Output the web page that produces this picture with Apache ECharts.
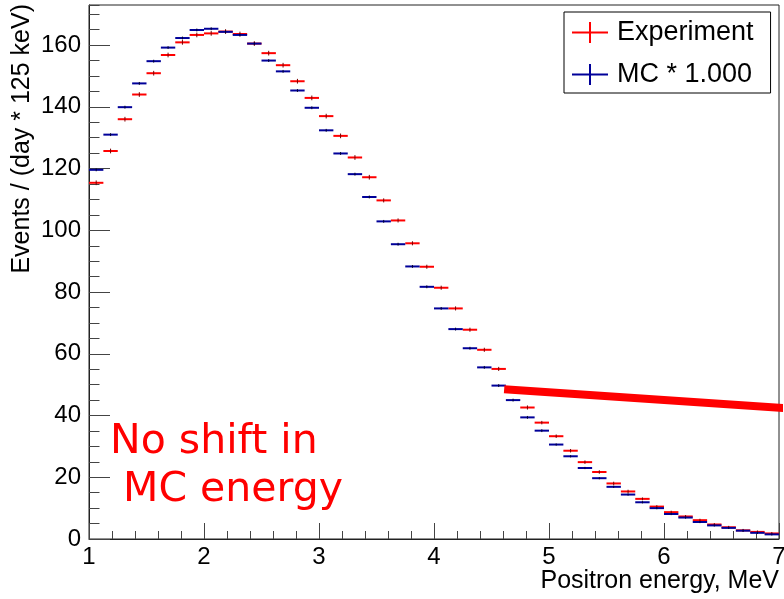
<!DOCTYPE html>
<html>
<head>
<meta charset="utf-8">
<script src="https://cdn.jsdelivr.net/npm/echarts@6/dist/echarts.min.js"></script>
<style>
  html, body { margin: 0; padding: 0; background: #fff; }
  #chart { width: 784px; height: 599px; }
</style>
</head>
<body>
<div id="chart"></div>
<script>
// Positron energy bin centres (MeV), 125 keV wide bins from 1 to 7 MeV
const energyBins = [
  1.0625, 1.1875, 1.3125, 1.4375, 1.5625, 1.6875, 1.8125, 1.9375,
  2.0625, 2.1875, 2.3125, 2.4375, 2.5625, 2.6875, 2.8125, 2.9375,
  3.0625, 3.1875, 3.3125, 3.4375, 3.5625, 3.6875, 3.8125, 3.9375,
  4.0625, 4.1875, 4.3125, 4.4375, 4.5625, 4.6875, 4.8125, 4.9375,
  5.0625, 5.1875, 5.3125, 5.4375, 5.5625, 5.6875, 5.8125, 5.9375,
  6.0625, 6.1875, 6.3125, 6.4375, 6.5625, 6.6875, 6.8125, 6.9375
];
const binWidth = 0.125;

// Measured spectrum, events / (day * 125 keV)
const experiment = [
  115.4, 125.7, 136.0, 144.0, 150.9, 156.8, 160.9, 163.3,
  163.8, 164.4, 163.6, 160.5, 157.4, 153.5, 148.3, 142.9,
  137.0, 130.6, 123.6, 117.2, 109.7, 103.2, 95.8, 88.2,
  81.4, 74.7, 67.8, 61.3, 55.1, 48.5, 42.6, 37.7,
  33.3, 28.6, 24.9, 21.7, 18.0, 15.4, 13.0, 10.5,
  8.7, 7.3, 6.1, 4.7, 3.8, 2.8, 2.3, 1.8
];
const experimentErr = [
  0.6, 0.6, 0.6, 0.6, 0.6, 0.6, 0.6, 0.6,
  0.6, 0.6, 0.6, 0.6, 0.6, 0.6, 0.6, 0.6,
  0.6, 0.6, 0.6, 0.6, 0.5, 0.5, 0.5, 0.5,
  0.5, 0.5, 0.5, 0.5, 0.5, 0.5, 0.5, 0.4,
  0.4, 0.4, 0.4, 0.4, 0.4, 0.4, 0.3, 0.3,
  0.3, 0.3, 0.3, 0.3, 0.3, 0.3, 0.3, 0.3
];

// Monte Carlo prediction, no energy shift applied
const monteCarlo = [
  119.6, 131.0, 139.9, 147.6, 154.8, 159.2, 162.3, 164.9,
  165.3, 164.3, 163.3, 160.5, 155.0, 151.5, 145.3, 139.7,
  132.4, 124.9, 118.2, 110.8, 102.9, 95.5, 88.3, 81.7,
  74.7, 68.0, 61.8, 55.6, 49.7, 45.0, 39.4, 35.1,
  30.6, 26.8, 23.0, 19.7, 16.9, 14.4, 11.9, 10.0,
  8.1, 6.95, 5.5, 4.4, 3.6, 2.7, 2.0, 1.5
];
const monteCarloErr = [
  0.3, 0.3, 0.3, 0.3, 0.3, 0.3, 0.3, 0.3,
  0.3, 0.3, 0.3, 0.3, 0.3, 0.3, 0.3, 0.3,
  0.3, 0.3, 0.3, 0.3, 0.3, 0.3, 0.3, 0.3,
  0.3, 0.3, 0.3, 0.3, 0.3, 0.3, 0.3, 0.3,
  0.2, 0.2, 0.2, 0.2, 0.2, 0.2, 0.2, 0.2,
  0.2, 0.2, 0.2, 0.2, 0.2, 0.2, 0.2, 0.2
];

// Hand-drawn guide line (energy MeV, events)
const guideLine = [[4.61, 48.5], [7.04, 42.4]];

const seriesNames = ['Experiment', 'MC * 1.000'];
const xTitle = 'Positron energy, MeV';
const yTitle = 'Events / (day * 125 keV)';
const noteText = 'No shift in\n MC energy';

const FONT = 'Liberation Sans';
const RED = '#ff0000';
const BLUE = '#000099';
const plusIcon = 'path://M0,9.5H36V11.5H0Z M17,0H19V21H17Z';

function histData(values, errs) {
  return energyBins.map((x, i) => [x, values[i], errs[i]]);
}

function histRenderer(color, errColor) {
  return function (params, api) {
    const xc = api.value(0), y = api.value(1), e = api.value(2);
    const a = api.coord([xc - binWidth / 2, y]);
    const b = api.coord([xc + binWidth / 2, y]);
    const t = api.coord([xc, y + e]);
    const d = api.coord([xc, y - e]);
    return {
      type: 'group',
      children: [
        { type: 'line', shape: { x1: a[0], y1: a[1], x2: b[0], y2: b[1] },
          style: { stroke: color, lineWidth: 2 } },
        { type: 'line', shape: { x1: t[0], y1: t[1] - 0.5, x2: d[0], y2: d[1] + 0.5 },
          style: { stroke: errColor, lineWidth: 1 } }
      ]
    };
  };
}

const chart = echarts.init(document.getElementById('chart'), null, { renderer: 'canvas' });

const yCommon = {
  type: 'value', min: 0, max: 173, position: 'left',
  splitLine: { show: false },
  axisLine: { show: true, onZero: false, lineStyle: { color: '#222', width: 1 } }
};

chart.setOption({
  animation: false,
  backgroundColor: '#fff',
  textStyle: { fontFamily: FONT },
  grid: {
    left: 89, right: 5, top: 5, bottom: 60,
    outerBoundsMode: 'none', containLabel: false,
    show: true, borderColor: '#222', borderWidth: 1, backgroundColor: 'transparent'
  },
  legend: {
    orient: 'vertical', left: 564, top: 12,
    backgroundColor: '#fff', borderColor: '#000', borderWidth: 1,
    padding: [7, 17, 5, 8],
    itemWidth: 36, itemHeight: 21, itemGap: 15,
    textStyle: { fontSize: 27, fontFamily: FONT, color: '#000', padding: [0, 0, 0, 4] },
    data: [
      { name: seriesNames[0], icon: plusIcon },
      { name: seriesNames[1], icon: plusIcon }
    ]
  },
  xAxis: {
    type: 'value', min: 1, max: 7, interval: 1,
    splitLine: { show: false },
    axisLine: { show: true, onZero: false, lineStyle: { color: '#222', width: 1 } },
    axisTick: { show: true, inside: true, length: 16, lineStyle: { color: '#444' } },
    minorTick: { show: true, splitNumber: 5, length: 8, lineStyle: { color: '#444' } },
    axisLabel: { fontSize: 24, color: '#000', margin: 6, fontFamily: FONT }
  },
  yAxis: [
    Object.assign({}, yCommon, {
      interval: 20,
      axisTick: { show: true, inside: true, length: 21, lineStyle: { color: '#444' } },
      axisLabel: { fontSize: 24, color: '#000', margin: 8, fontFamily: FONT, showMaxLabel: false }
    }),
    Object.assign({}, yCommon, {
      interval: 5,
      axisLine: { show: false },
      axisTick: { show: true, inside: true, length: 10.5, lineStyle: { color: '#444' } },
      axisLabel: { show: false }
    })
  ],
  graphic: [
    {
      type: 'text', x: 22, y: 4, rotation: Math.PI / 2,
      style: { text: yTitle, font: '25px "Liberation Sans"', fill: '#000',
               align: 'right', verticalAlign: 'middle' }
    },
    {
      type: 'text', x: 779, y: 581,
      style: { text: xTitle, font: '25px "Liberation Sans"', fill: '#000',
               align: 'right', verticalAlign: 'middle' }
    },
    {
      type: 'text', x: 110, y: 418,
      style: { text: noteText, font: '41px "DejaVu Sans"', fill: RED,
               lineHeight: 48, align: 'left', verticalAlign: 'top' }
    }
  ],
  series: [
    {
      name: seriesNames[0], type: 'custom', color: RED,
      renderItem: histRenderer(RED, '#7a0000'),
      data: histData(experiment, experimentErr), z: 2
    },
    {
      name: seriesNames[1], type: 'custom', color: BLUE,
      renderItem: histRenderer(BLUE, '#000033'),
      data: histData(monteCarlo, monteCarloErr), z: 3
    },
    {
      name: 'guide', type: 'line', data: guideLine, clip: false,
      showSymbol: false, silent: true, z: 5,
      lineStyle: { color: RED, width: 8, cap: 'butt' }
    }
  ]
});
</script>
</body>
</html>
